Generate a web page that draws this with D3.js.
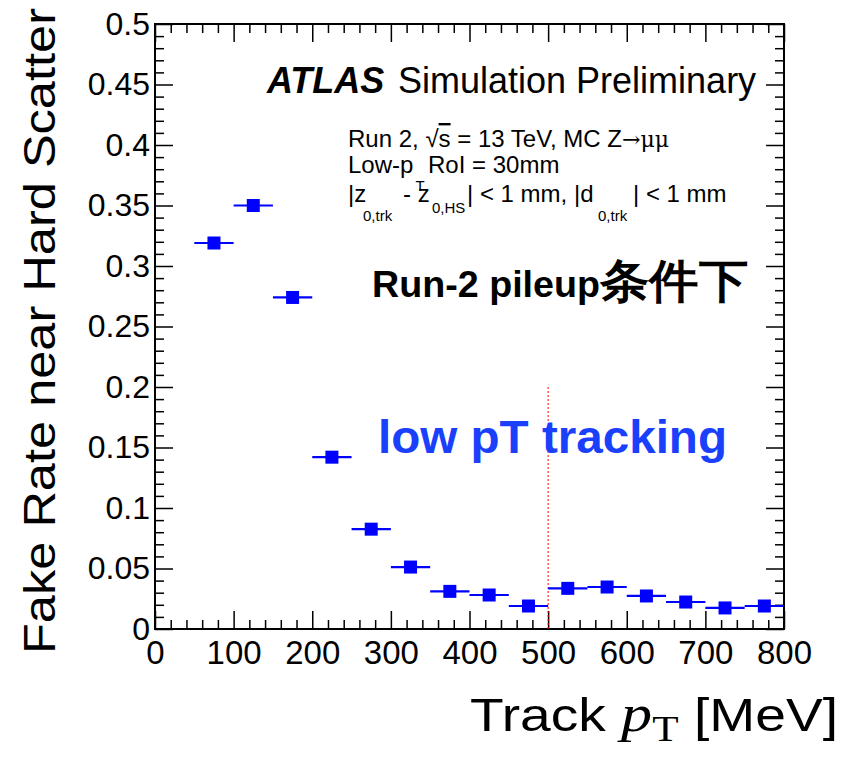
<!DOCTYPE html>
<html>
<head>
<meta charset="utf-8">
<script src="https://cdn.jsdelivr.net/npm/d3@7"></script>
<style>
  html, body { margin: 0; padding: 0; background: #fff; }
  svg { display: block; }
  text { font-family: "Liberation Sans", Arial, Helvetica, sans-serif; }
</style>
</head>
<body>
<svg id="chart" width="857" height="758"></svg>
<script>
// ---- data ----
const binLow  = [50, 100, 150, 200, 250, 300, 350, 400, 450, 500, 550, 600, 650, 700, 750];
const binHigh = [100, 150, 200, 250, 300, 350, 400, 450, 500, 550, 600, 650, 700, 750, 800];
const binCenter = [75, 125, 175, 225, 275, 325, 375, 425, 475, 525, 575, 625, 675, 725, 775];
const fakeRate = [0.319, 0.350, 0.274, 0.142, 0.0825, 0.0512, 0.0311, 0.0281, 0.0190,
                  0.0336, 0.0347, 0.0273, 0.0223, 0.0174, 0.0190];
const xTickValues = [0, 100, 200, 300, 400, 500, 600, 700, 800];
const xTickLabels = ["0", "100", "200", "300", "400", "500", "600", "700", "800"];
const yTickValues = [0, 0.05, 0.1, 0.15, 0.2, 0.25, 0.3, 0.35, 0.4, 0.45, 0.5];
const yTickLabels = ["0", "0.05", "0.1", "0.15", "0.2", "0.25", "0.3", "0.35", "0.4", "0.45", "0.5"];
const cutValue = 500;      // red dotted line position (MeV)
const cutTop = 0.2;        // red dotted line top (fake rate)

// ---- layout ----
const L = 155, R = 784, T = 24, B = 629;
const svg = d3.select("#chart");
const x = d3.scaleLinear().domain([0, 800]).range([L, R]);
const y = d3.scaleLinear().domain([0, 0.5]).range([B, T]);

const xMinor = d3.range(0, 801, 20).filter(v => v % 100 !== 0);
const yMinor = d3.range(0, 51, 1).map(v => v / 100).filter(v => Math.round(v * 100) % 5 !== 0);

function styleAxis(g) {
  g.select(".domain").remove();
  g.selectAll(".tick line").attr("stroke", "#000").attr("stroke-width", 1.5);
}

// bottom axis major (with labels)
svg.append("g").attr("transform", `translate(0,${B})`)
  .call(d3.axisBottom(x).tickValues(xTickValues).tickSizeInner(-18).tickSizeOuter(0).tickPadding(12)
        .tickFormat((d, i) => xTickLabels[i]))
  .call(styleAxis)
  .call(g => g.selectAll("text").attr("font-size", 33).attr("fill", "#000")
        .attr("font-family", "Liberation Sans, Arial, sans-serif"));
svg.append("g").attr("transform", `translate(0,${B})`)
  .call(d3.axisBottom(x).tickValues(xMinor).tickSizeInner(-9).tickSizeOuter(0).tickFormat(""))
  .call(styleAxis);
// top axis
svg.append("g").attr("transform", `translate(0,${T})`)
  .call(d3.axisTop(x).tickValues(xTickValues).tickSizeInner(-18).tickSizeOuter(0).tickFormat(""))
  .call(styleAxis);
svg.append("g").attr("transform", `translate(0,${T})`)
  .call(d3.axisTop(x).tickValues(xMinor).tickSizeInner(-9).tickSizeOuter(0).tickFormat(""))
  .call(styleAxis);
// left axis
svg.append("g").attr("transform", `translate(${L},0)`)
  .call(d3.axisLeft(y).tickValues(yTickValues).tickSizeInner(-18).tickSizeOuter(0).tickPadding(5)
        .tickFormat((d, i) => yTickLabels[i]))
  .call(styleAxis)
  .call(g => g.selectAll("text").attr("font-size", 32).attr("fill", "#000")
        .attr("font-family", "Liberation Sans, Arial, sans-serif"));
svg.append("g").attr("transform", `translate(${L},0)`)
  .call(d3.axisLeft(y).tickValues(yMinor).tickSizeInner(-9).tickSizeOuter(0).tickFormat(""))
  .call(styleAxis);
// right axis
svg.append("g").attr("transform", `translate(${R},0)`)
  .call(d3.axisRight(y).tickValues(yTickValues).tickSizeInner(-18).tickSizeOuter(0).tickFormat(""))
  .call(styleAxis);
svg.append("g").attr("transform", `translate(${R},0)`)
  .call(d3.axisRight(y).tickValues(yMinor).tickSizeInner(-9).tickSizeOuter(0).tickFormat(""))
  .call(styleAxis);

// frame
svg.append("rect").attr("x", L).attr("y", T).attr("width", R - L).attr("height", B - T)
  .attr("fill", "none").attr("stroke", "#000").attr("stroke-width", 2);

// red dotted cut line
svg.append("line")
  .attr("x1", x(cutValue)).attr("x2", x(cutValue))
  .attr("y1", y(cutTop)).attr("y2", y(0))
  .attr("stroke", "#ff0000").attr("stroke-width", 1).attr("stroke-dasharray", "2,2");

// data: horizontal error bars + square markers
const pts = fakeRate.map((v, i) => ({lo: binLow[i], hi: binHigh[i], c: binCenter[i], v}));
svg.append("g").selectAll("line").data(pts).join("line")
  .attr("x1", d => x(d.lo)).attr("x2", d => x(d.hi))
  .attr("y1", d => y(d.v)).attr("y2", d => y(d.v))
  .attr("stroke", "#0000ff").attr("stroke-width", 2.2);
const ms = 13;
svg.append("g").selectAll("rect").data(pts).join("rect")
  .attr("x", d => x(d.c) - ms / 2).attr("y", d => y(d.v) - ms / 2)
  .attr("width", ms).attr("height", ms).attr("fill", "#0000ff");

// axis titles
svg.append("text")
  .attr("transform", "translate(55,8) rotate(-90)")
  .attr("text-anchor", "end")
  .attr("font-size", 45)
  .attr("textLength", 646).attr("lengthAdjust", "spacingAndGlyphs")
  .text("Fake Rate near Hard Scatter");

const xt = svg.append("text").attr("x", 470).attr("y", 731).attr("font-size", 46)
  .attr("textLength", 368).attr("lengthAdjust", "spacingAndGlyphs");
xt.append("tspan").text("Track ");
xt.append("tspan").attr("font-family", "Liberation Serif, Times New Roman, serif").attr("font-style", "italic").attr("font-size", 52).text("p");
xt.append("tspan").attr("font-family", "Liberation Serif, Times New Roman, serif").attr("font-size", 36).attr("dy", 10).text("T");
xt.append("tspan").attr("dy", -10).text(" [MeV]");

// ATLAS label
svg.append("text").attr("x", 267).attr("y", 93).attr("font-size", 36)
  .attr("font-weight", "bold").attr("font-style", "italic").text("ATLAS");
svg.append("text").attr("x", 398).attr("y", 93).attr("font-size", 36).text("Simulation Preliminary");

// info lines
const fs = 24, sub = 15;
const l1 = svg.append("text").attr("x", 348).attr("y", 147).attr("font-size", fs);
l1.append("tspan").text("Run 2, √");
l1.append("tspan").style("text-decoration", "overline").text("s");
l1.append("tspan").text(" = 13 TeV, MC Z");
l1.append("tspan").attr("font-family", "DejaVu Serif, serif").attr("font-size", 22).text("→μμ");

const l2 = svg.append("text").attr("x", 348).attr("y", 173).attr("font-size", fs);
l2.append("tspan").text("Low-p");
l2.append("tspan").attr("font-size", sub).attr("dy", 18).attr("dx", 2).text("T");
svg.append("text").attr("x", 428).attr("y", 173).attr("font-size", fs).text("RoI = 30mm");

const l3y = 202;
svg.append("text").attr("x", 348).attr("y", l3y).attr("font-size", fs).text("|z");
svg.append("text").attr("x", 363).attr("y", l3y + 19).attr("font-size", sub).text("0,trk");
svg.append("text").attr("x", 403).attr("y", l3y).attr("font-size", fs).text("- z");
svg.append("text").attr("x", 432).attr("y", l3y + 11).attr("font-size", sub).text("0,HS");
svg.append("text").attr("x", 467).attr("y", l3y).attr("font-size", fs).text("| < 1 mm, |d");
svg.append("text").attr("x", 598).attr("y", l3y + 19).attr("font-size", sub).text("0,trk");
svg.append("text").attr("x", 633).attr("y", l3y).attr("font-size", fs).text("| < 1 mm");

// annotations
svg.append("text").attr("x", 372).attr("y", 297).attr("font-size", 37).attr("font-weight", "bold")
  .attr("textLength", 228).attr("lengthAdjust", "spacingAndGlyphs").text("Run-2 pileup");
svg.append("text").attr("x", 600).attr("y", 297).attr("font-size", 46).attr("font-weight", "bold")
  .attr("font-family", "Noto Sans CJK SC, sans-serif")
  .attr("textLength", 148).attr("lengthAdjust", "spacingAndGlyphs").text("条件下");

svg.append("text").attr("x", 378).attr("y", 453).attr("font-size", 47).attr("font-weight", "bold")
  .attr("fill", "#1a40fc").attr("textLength", 349).attr("lengthAdjust", "spacingAndGlyphs")
  .text("low pT tracking");
</script>
</body>
</html>
